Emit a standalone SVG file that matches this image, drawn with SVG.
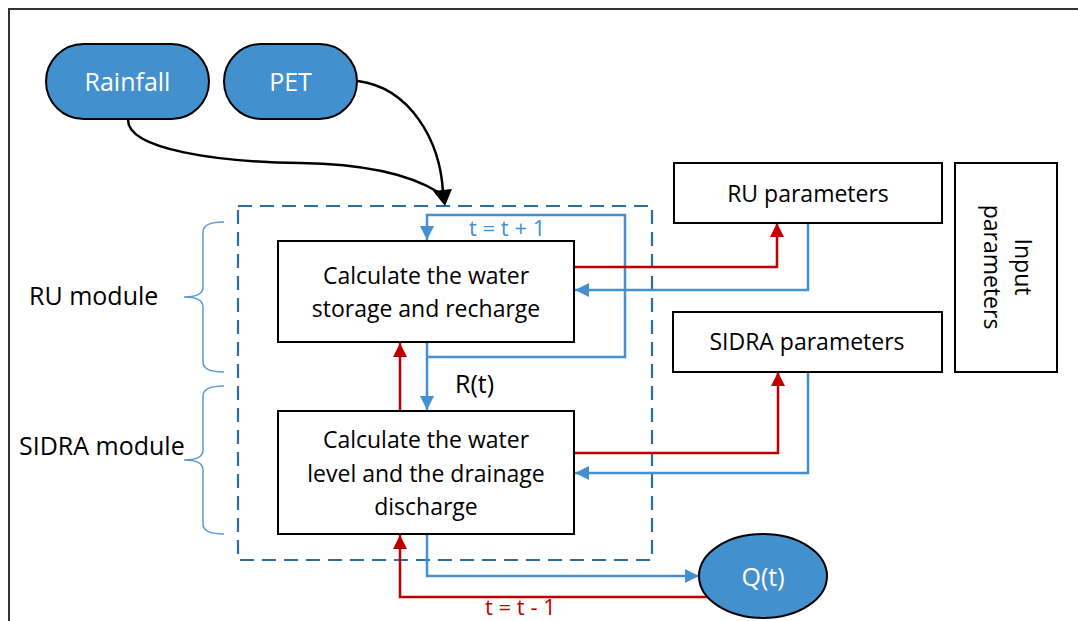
<svg xmlns="http://www.w3.org/2000/svg" width="1078" height="621" viewBox="0 0 1078 621">
<style>
text{font-family:"Open Sans","Noto Sans","Liberation Sans",sans-serif;font-size:23px;fill:#000}
.pill{fill:#4390ce;stroke:#000;stroke-width:2}
.wt{fill:#fff;font-size:25px}
.box{fill:#fff;stroke:#000;stroke-width:2}
.blue{fill:none;stroke:#4690d0;stroke-width:2.5}
.red{fill:none;stroke:#c00000;stroke-width:2.5}
.brace{fill:none;stroke:#5b9bd5;stroke-width:1.5}
.lbl{font-size:25px}
</style>
<defs>
<marker id="ab" markerUnits="userSpaceOnUse" markerWidth="14" markerHeight="14" refX="14" refY="7" orient="auto"><path d="M0,0 L14,7 L0,14 z" fill="#4690d0"/></marker>
<marker id="ar" markerUnits="userSpaceOnUse" markerWidth="14" markerHeight="14" refX="14" refY="7" orient="auto"><path d="M0,0 L14,7 L0,14 z" fill="#c00000"/></marker>
</defs>
<rect width="1078" height="621" fill="#fff"/>
<path d="M9,621 V9 H1078" fill="none" stroke="#333" stroke-width="2"/>

<g id="dashed-frame"><rect x="238" y="206" width="414" height="354" fill="none" stroke="#2e6da4" stroke-width="2.2" stroke-dasharray="14 8"/></g>

<g id="braces">
<path class="brace" d="M224,222 Q203,222 203,232 V287 Q203,297 184,297 Q203,297 203,307 V362 Q203,372 224,372"/>
<path class="brace" d="M224,386 Q203,386 203,396 V450 Q203,460 184,460 Q203,460 203,470 V524 Q203,534 224,534"/>
</g>

<g id="rainfall"><rect class="pill" x="46" y="44" width="163" height="75" rx="37.5"/><text class="wt" x="127.5" y="91" text-anchor="middle">Rainfall</text></g>
<g id="pet"><rect class="pill" x="224" y="44" width="133" height="75" rx="37.5"/><text class="wt" x="290.5" y="91" text-anchor="middle">PET</text></g>

<g id="ru-module-label"><text class="lbl" x="29" y="305">RU module</text></g>
<g id="sidra-module-label"><text class="lbl" x="19" y="455">SIDRA module</text></g>

<g id="connectors">
<path d="M128,120 C128,150 220,162 300,163 C370,164 412,176 438,192" fill="none" stroke="#000" stroke-width="2.5"/>
<path d="M358,81 C410,88 440,140 443,192" fill="none" stroke="#000" stroke-width="2.5"/>
<polygon points="445,206 433,191 452,189" fill="#000"/>
<path class="blue" d="M427,342 V410" marker-end="url(#ab)"/>
<path class="blue" d="M427,357 H625 V215 H427 V240" marker-end="url(#ab)"/>
<path class="red" d="M400,411 V343" marker-end="url(#ar)"/>
<path class="red" d="M574,267 H777 V223" marker-end="url(#ar)"/>
<path class="blue" d="M808,223 V290 H575" marker-end="url(#ab)"/>
<path class="red" d="M574,453 H778 V372" marker-end="url(#ar)"/>
<path class="blue" d="M808,372 V473 H575" marker-end="url(#ab)"/>
<path class="blue" d="M427,534 V576 H699" marker-end="url(#ab)"/>
<path class="red" d="M712,597 H400 V535" marker-end="url(#ar)"/>
<text x="469" y="236" style="fill:#4690d0;font-size:22px">t = t + 1</text>
<text x="485" y="615" style="fill:#c00000;font-size:22px">t = t - 1</text>
<text class="lbl" x="455" y="393">R(t)</text>
</g>

<g id="box-ru"><rect class="box" x="278" y="241" width="296" height="101"/>
<text x="426" y="284" text-anchor="middle">Calculate the water</text>
<text x="426" y="317" text-anchor="middle">storage and recharge</text></g>

<g id="box-sidra"><rect class="box" x="278" y="411" width="296" height="123"/>
<text x="426" y="448" text-anchor="middle">Calculate the water</text>
<text x="426" y="482" text-anchor="middle">level and the drainage</text>
<text x="426" y="515" text-anchor="middle">discharge</text></g>

<g id="ru-params"><rect class="box" x="674" y="163" width="268" height="60"/><text x="808" y="202" text-anchor="middle">RU parameters</text></g>
<g id="sidra-params"><rect class="box" x="673" y="312" width="269" height="60"/><text x="807" y="350" text-anchor="middle">SIDRA parameters</text></g>
<g id="input-params"><rect class="box" x="955" y="163" width="102" height="209"/>
<text transform="translate(1015,267) rotate(90)" text-anchor="middle"><tspan x="0" y="0">Input</tspan><tspan x="0" y="31">parameters</tspan></text></g>

<g id="qt"><ellipse cx="763" cy="576" rx="64" ry="42" fill="#4390ce" stroke="#000" stroke-width="2"/><text class="wt" x="763" y="586" text-anchor="middle">Q(t)</text></g>
</svg>
